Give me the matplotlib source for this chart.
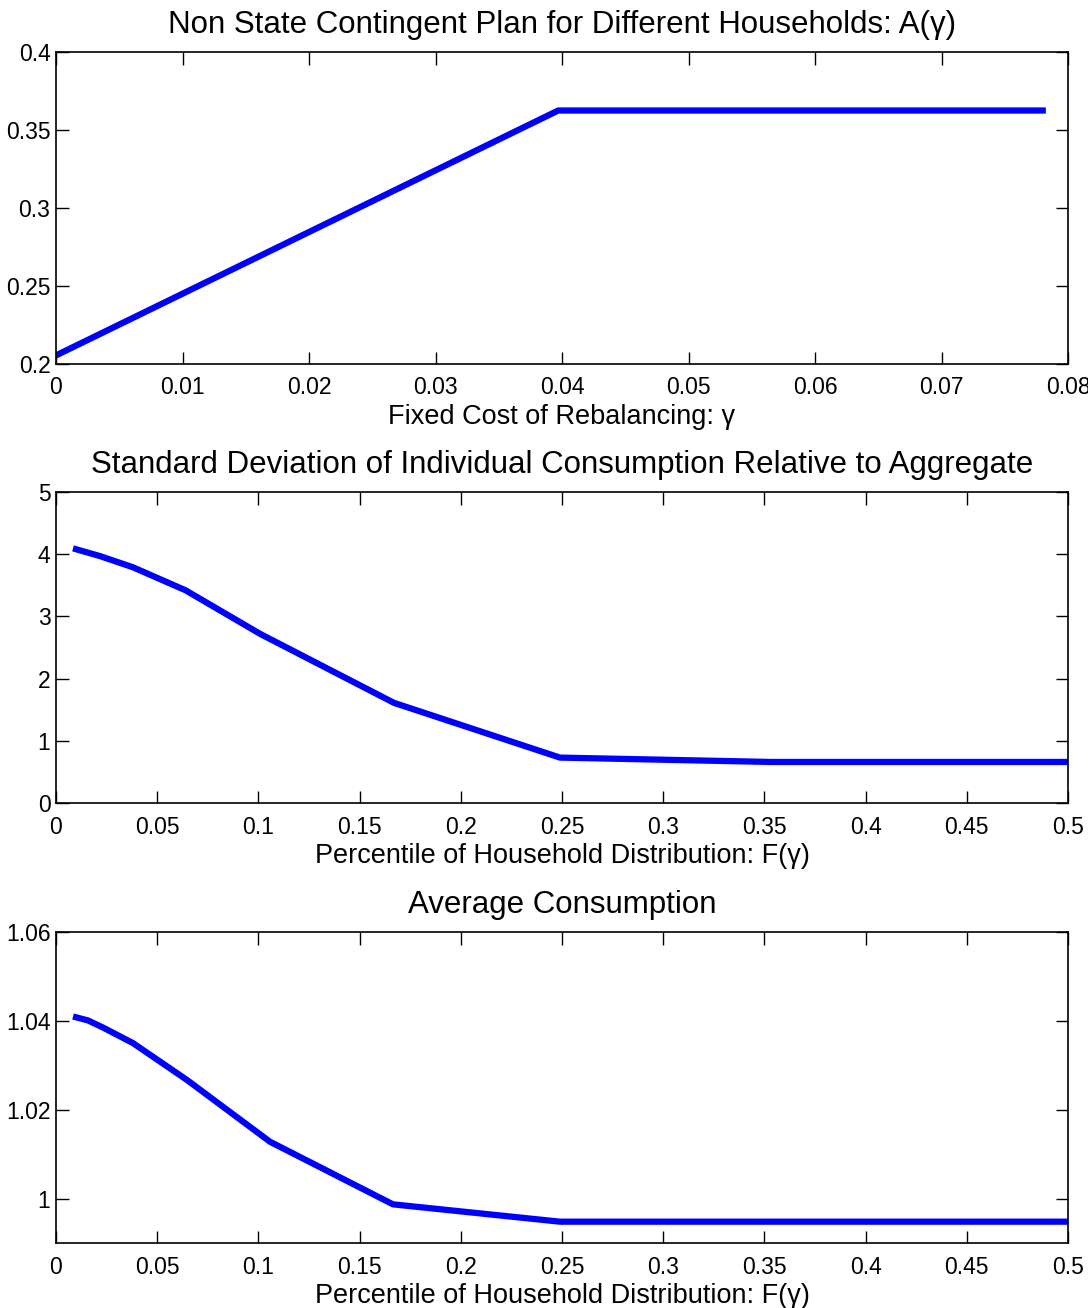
import matplotlib.pyplot as plt
from matplotlib.ticker import FixedLocator, FormatStrFormatter

plt.rcParams['font.family'] = ['Liberation Sans', 'DejaVu Sans']

# Panel 1: plan A(gamma) vs fixed cost gamma
gamma = [0.0, 0.0397, 0.078]
plan_a = [0.2055, 0.3625, 0.3625]

# Panel 2: std of individual consumption vs percentile F(gamma)
pct = [0.0099, 0.0217, 0.038, 0.064, 0.1008, 0.167, 0.249, 0.353, 0.5]
std_c = [4.08, 3.97, 3.79, 3.42, 2.72, 1.61, 0.73, 0.66, 0.66]

# Panel 3: average consumption vs percentile F(gamma)
pct2 = [0.0099, 0.0158, 0.0232, 0.038, 0.0647, 0.1057, 0.1665, 0.249, 0.5]
avg_c = [1.0408, 1.0401, 1.0385, 1.0350, 1.0267, 1.0128, 0.9987, 0.9948, 0.9948]

fig = plt.figure(figsize=(10.88, 13.08), dpi=100)
L, W = 56 / 1088, 1012 / 1088


def style(ax, xt, yt):
    ax.xaxis.set_major_locator(FixedLocator(xt))
    ax.yaxis.set_major_locator(FixedLocator(yt))
    ax.xaxis.set_major_formatter(FormatStrFormatter('%g'))
    ax.yaxis.set_major_formatter(FormatStrFormatter('%g'))
    ax.tick_params(direction='in', top=True, right=True, length=9, width=1,
                   labelsize=16.5)
    ax.tick_params(axis='x', pad=9)
    ax.tick_params(axis='y', pad=4)
    for s in ax.spines.values():
        s.set_linewidth(1.2)


ax1 = fig.add_axes([L, 1 - 364 / 1308, W, 312 / 1308])
ax1.plot(gamma, plan_a, color='#0000ff', lw=4.5)
ax1.set_xlim(0, 0.08)
ax1.set_ylim(0.2, 0.4)
style(ax1, [i * 0.01 for i in range(9)], [0.2, 0.25, 0.3, 0.35, 0.4])
ax1.set_title('Non State Contingent Plan for Different Households: A(γ)', fontsize=22.5, pad=14)
ax1.set_xlabel('Fixed Cost of Rebalancing: γ', fontsize=19.5, labelpad=3)

ax2 = fig.add_axes([L, 1 - 803 / 1308, W, 311 / 1308])
ax2.plot(pct, std_c, color='#0000ff', lw=4.5)
ax2.set_xlim(0, 0.5)
ax2.set_ylim(0, 5)
style(ax2, [i * 0.05 for i in range(11)], [0, 1, 2, 3, 4, 5])
ax2.set_title('Standard Deviation of Individual Consumption Relative to Aggregate', fontsize=22.5, pad=14)
ax2.set_xlabel('Percentile of Household Distribution: F(γ)', fontsize=19.5, labelpad=3)

ax3 = fig.add_axes([L, 1 - 1243 / 1308, W, 311 / 1308])
ax3.plot(pct2, avg_c, color='#0000ff', lw=4.5)
ax3.set_xlim(0, 0.5)
ax3.set_ylim(0.99, 1.06)
style(ax3, [i * 0.05 for i in range(11)], [1.0, 1.02, 1.04, 1.06])
ax3.set_title('Average Consumption', fontsize=22.5, pad=14)
ax3.set_xlabel('Percentile of Household Distribution: F(γ)', fontsize=19.5, labelpad=3)

fig.savefig('out.png', dpi=100)
